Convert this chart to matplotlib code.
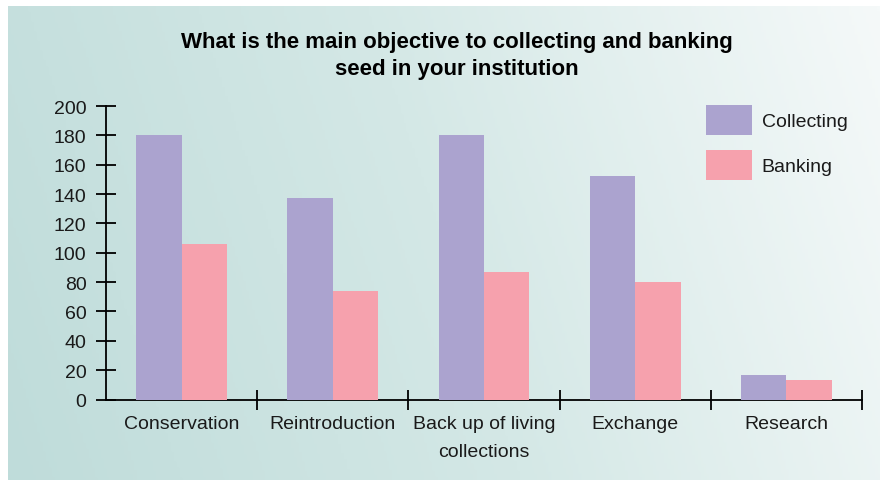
import matplotlib
matplotlib.use("Agg")
import matplotlib.pyplot as plt
import numpy as np
from matplotlib.colors import LinearSegmentedColormap

# Chart data
categories = ["Conservation", "Reintroduction", "Back up of living\ncollections", "Exchange", "Research"]
collecting = [180, 137, 180, 152, 17]
banking = [106, 74, 87, 80, 13]

COLLECT_COLOR = "#aba3cf"
BANK_COLOR = "#f6a1ad"
TEXT_COLOR = "#1a1a1a"

plt.rcParams['font.family'] = ['Liberation Sans', 'DejaVu Sans']

fig = plt.figure(figsize=(8.8, 4.81), dpi=100)
fig.patch.set_facecolor("white")

# Gradient background panel
bg = fig.add_axes([8 / 880, 0, 1 - 8 / 880, 1 - 7 / 481])
bg.set_axis_off()
cmap = LinearSegmentedColormap.from_list("bg", ["#bfdcda", "#d4e8e6", "#f5f9f9"])
gx, gy = np.meshgrid(np.linspace(0, 1, 300), np.linspace(0, 1, 150))
grad = 0.85 * gx + 0.15 * (1 - gy)
bg.imshow(grad, cmap=cmap, aspect="auto", extent=[0, 1, 0, 1], origin="upper")

ax = fig.add_axes([106 / 880, 1 - 400.5 / 481, (862 - 106) / 880, (400.5 - 107) / 481])
ax.patch.set_alpha(0)

x = np.arange(len(categories))
w = 0.30
ax.bar(x - w / 2, collecting, w, color=COLLECT_COLOR, label="Collecting", zorder=3)
ax.bar(x + w / 2, banking, w, color=BANK_COLOR, label="Banking", zorder=3)

ax.set_xlim(-0.5, len(categories) - 0.5)
ax.set_ylim(0, 200)
ax.set_yticks(range(0, 201, 20))
ax.set_xticks(x)
ax.set_xticklabels(categories, linespacing=1.85)
ax.set_xticks(np.arange(0.5, len(categories)), minor=True)

for s in ["top", "right"]:
    ax.spines[s].set_visible(False)
for s in ["left", "bottom"]:
    ax.spines[s].set_color("black")
    ax.spines[s].set_linewidth(1.3)

ax.tick_params(axis="y", direction="inout", length=14, width=1.3, pad=7,
               labelsize=14, labelcolor=TEXT_COLOR)
ax.tick_params(axis="x", which="major", length=0, pad=11, labelsize=14, labelcolor=TEXT_COLOR)
ax.tick_params(axis="x", which="minor", direction="inout", length=14, width=1.3)

fig.text(457 / 880, 1 - 56 / 481,
         "What is the main objective to collecting and banking\nseed in your institution",
         ha="center", va="center", fontsize=16, fontweight="bold",
         linespacing=1.35, color="black")

ax.legend(loc="upper left", bbox_to_anchor=(706 / 880, 1 - 106 / 481),
          bbox_transform=fig.transFigure, frameon=False, borderpad=0, borderaxespad=0,
          fontsize=14, handlelength=2.37, handleheight=2.0, handletextpad=0.5,
          labelspacing=0.77, labelcolor=TEXT_COLOR)

fig.savefig("out.png", dpi=100, facecolor=fig.get_facecolor())
